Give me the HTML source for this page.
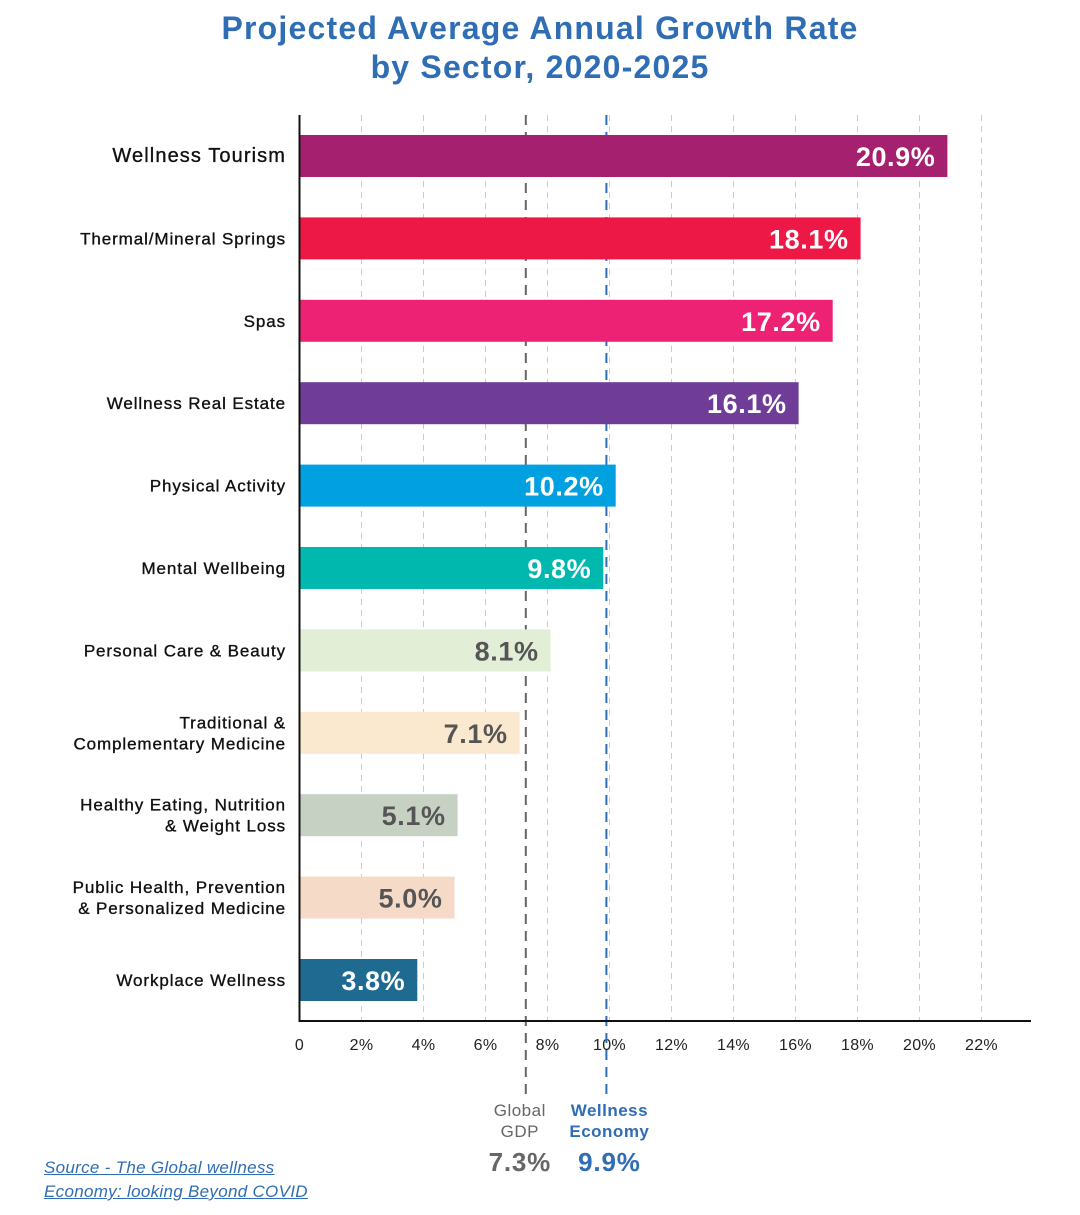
<!DOCTYPE html>
<html><head><meta charset="utf-8">
<style>
body{margin:0;background:#fff;width:1080px;height:1215px;overflow:hidden;font-family:"Liberation Sans",sans-serif;}
.title{position:absolute;left:0;width:1080px;text-align:center;color:#2f6db5;font-weight:bold;font-size:32px;letter-spacing:1.2px;line-height:39px;top:9px;}
.src{position:absolute;left:44px;top:1156px;color:#2f6db5;font-style:italic;font-size:17px;letter-spacing:0.3px;line-height:24px;text-decoration:underline;}
</style></head><body>
<div class="title">Projected Average Annual Growth Rate<br>by Sector, 2020-2025</div>
<svg id="chart" width="1080" height="1215" style="position:absolute;left:0;top:0"></svg>
<div class="src">Source - The Global wellness <br>Economy: looking Beyond COVID</div>
<script>
const categories=[["Wellness Tourism"],["Thermal/Mineral Springs"],["Spas"],["Wellness Real Estate"],["Physical Activity"],["Mental Wellbeing"],["Personal Care & Beauty"],["Traditional &","Complementary Medicine"],["Healthy Eating, Nutrition","& Weight Loss"],["Public Health, Prevention","& Personalized Medicine"],["Workplace Wellness"]];
const values=[20.9,18.1,17.2,16.1,10.2,9.8,8.1,7.1,5.1,5.0,3.8];
const colors=["#a5206e","#ee1847","#ee2274","#6f3d98","#00a0e1","#00b8ad","#e2eed6","#fae8cf","#c6d1c4","#f6dac8","#1e6a91"];
const labelColors=["#fff","#fff","#fff","#fff","#fff","#fff","#555","#555","#555","#555","#fff"];
const ticks=[0,2,4,6,8,10,12,14,16,18,20,22];
const refValues=[7.3,9.9];
const refNames=[["Global","GDP"],["Wellness","Economy"]];
const refColors=["#666","#2f6db5"];
const NS="http://www.w3.org/2000/svg";
const svg=document.getElementById('chart');
const x=v=>299.5+v*31;
const yTop=i=>135+i*82.4;
const bh=42;
function el(t,a){const e=document.createElementNS(NS,t);for(const k in a)e.setAttribute(k,a[k]);svg.appendChild(e);return e;}
ticks.forEach((t,i)=>{
  if(t>0){const g=el('line',{x1:x(t),x2:x(t),y1:115,y2:1020,stroke:'#ccc','stroke-width':1,'stroke-dasharray':'6,5'});
  
  }
  const tl=el('text',{x:x(t),y:1050,'text-anchor':'middle','font-size':16,fill:'#222','letter-spacing':0.3});
  tl.textContent=t===0?'0':t+'%';
  
  
});
refValues.forEach((v,i)=>{
  const l=el('line',{x1:x(v),x2:x(v),y1:115,y2:1097,stroke:refColors[i],'stroke-width':2,'stroke-dasharray':'10,7'});
  
  
  refNames[i].forEach((s,j)=>{
    const t=el('text',{x:x(v)+(i===0?-6:3),y:1116+j*21,'text-anchor':'middle','font-size':17,'letter-spacing':0.5,fill:refColors[i],'font-weight':i===1?'bold':'normal'});
    t.textContent=s;
    
    
  });
  const p=el('text',{x:x(v)+(i===0?-6:3),y:1171,'text-anchor':'middle','font-size':26,'font-weight':'bold','letter-spacing':0.8,fill:refColors[i]});
  p.textContent=v.toFixed(1)+'%';
  
  
});
values.forEach((v,i)=>{
  const r=el('rect',{x:x(0),y:yTop(i),width:x(v)-x(0),height:bh,fill:colors[i]});
  
  
  const t=el('text',{x:x(v)-12,y:yTop(i)+bh/2+10,'text-anchor':'end','font-size':27,'font-weight':'bold','letter-spacing':0.6,fill:labelColors[i]});
  t.textContent=v.toFixed(1)+'%';
  
  
  const lines=categories[i];
  lines.forEach((s,j)=>{
    const c=el('text',{x:286,y:yTop(i)+bh/2+6+(j-(lines.length-1)/2)*21,'text-anchor':'end','font-size':i===0?20:17,'letter-spacing':i===0?1.1:0.9,fill:'#111',stroke:'#111','stroke-width':0.35});
    c.textContent=s;
    
    
  });
});
const ax=el('line',{x1:299.5,x2:1031,y1:1021,y2:1021,stroke:'#111','stroke-width':2});


const ay=el('line',{x1:299.5,x2:299.5,y1:115,y2:1022,stroke:'#111','stroke-width':2});


</script>
</body></html>
